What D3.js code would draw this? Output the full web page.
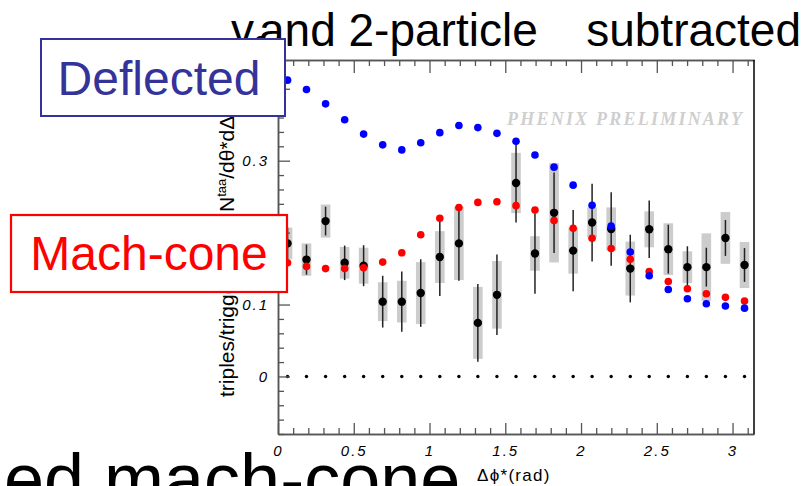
<!DOCTYPE html>
<html>
<head>
<meta charset="utf-8">
<script src="https://cdn.jsdelivr.net/npm/d3@7"></script>
<style>
	body{margin:0;background:#fff;}
	svg text{font-family:"Liberation Sans",Arial,sans-serif;}
</style>
</head>
<body>
<div id="chart-box"></div>
<script>
// bin centres in delta phi* (rad)
const dphi= [0.063,0.188,0.314,0.440,0.565,0.691,0.817,0.942,1.068,1.194,1.319,1.445,1.571,
	1.696,1.822,1.948,2.073,2.199,2.325,2.450,2.576,2.702,2.827,2.953,3.079];
// Deflected jet expectation (blue)
const deflected= [0.412,0.399,0.379,0.357,0.337,0.322,0.315,0.325,0.339,0.349,0.346,0.338,0.327,
	0.308,0.291,0.266,0.238,0.209,0.173,0.140,0.121,0.108,0.101,0.098,0.095];
// Mach-cone expectation (red)
const machCone= [0.158,0.153,0.150,0.150,0.151,0.159,0.172,0.197,0.220,0.235,0.242,0.243,0.2375,
	0.2315,0.2167,0.206,0.192,0.178,0.163,0.146,0.132,0.122,0.115,0.110,0.105];
// measured triples (black), stat error and systematic band
const triples= [0.185,0.1625,0.216,0.158,0.154,0.104,0.104,0.116,0.166,0.185,0.0745,0.1135,0.269,
	0.171,0.2275,0.175,0.214,0.205,0.150,0.2046,0.177,0.152,0.152,0.1926,0.155];
const statErr= [0.022,0.021,0.020,0.024,0.0285,0.036,0.042,0.047,0.054,0.052,0.054,0.056,0.055,
	0.056,0.056,0.0565,0.054,0.051,0.047,0.040,0.034,0.029,0.027,0.025,0.0235];
const sysErr= [0.022,0.0225,0.023,0.022,0.025,0.027,0.029,0.043,0.036,0.051,0.050,0.047,0.042,
	0.024,0.069,0.032,0.021,0.030,0.0375,0.025,0.036,0.022,0.047,0.036,0.032];
// axis ticks
const xMajor= [0,0.5,1,1.5,2,2.5,3];
const xMinor= [0.1,0.2,0.3,0.4,0.6,0.7,0.8,0.9,1.1,1.2,1.3,1.4,1.6,1.7,1.8,1.9,2.1,2.2,2.3,2.4,2.6,2.7,2.8,2.9,3.1];
const yMajor= [0,0.1,0.2,0.3,0.4];
const yMinor= [-0.08,-0.06,-0.04,-0.02,0.02,0.04,0.06,0.08,0.12,0.14,0.16,0.18,0.22,0.24,0.26,0.28,
	0.32,0.34,0.36,0.38,0.42,0.44];

const w= 804, h= 486;
const pLeft= 278, pRight= 754, pTop= 60, pBottom= 434;

const svg= d3.select("#chart-box")
	.append("svg")
	.attr("width",w)
	.attr("height",h);

const xScale= d3.scaleLinear().domain([0,Math.PI]).range([pLeft,pRight]);
const yScale= d3.scaleLinear().domain([-0.08,0.44]).range([pBottom,pTop]);

// title (cut at the top like the slide)
const title= svg.append("text")
	.attr("y",46)
	.attr("font-size",46)
	.attr("fill","#000");
title.append("tspan").attr("x",231).text("v");
title.append("tspan").attr("font-size",24).attr("dy",7).text("2");
title.append("tspan").attr("x",259).attr("dy",-7).text("and 2-particle");
svg.append("text")
	.attr("x",801).attr("y",46)
	.attr("text-anchor","end")
	.attr("font-size",46)
	.attr("fill","#000")
	.text("subtracted");

// watermark
svg.append("text")
	.attr("x",507).attr("y",125)
	.style("font-family","'Liberation Serif','Times New Roman',serif")
	.attr("font-style","italic")
	.attr("font-weight","bold")
	.attr("font-size",18)
	.attr("fill","#cfcfcf")
	.attr("textLength",235)
	.attr("lengthAdjust","spacing")
	.text("PHENIX PRELIMINARY");

// zero line
svg.selectAll(".zero")
	.data(dphi)
	.enter().append("circle")
	.attr("class","zero")
	.attr("cx",d=> xScale(d))
	.attr("cy",yScale(0))
	.attr("r",1.7)
	.attr("fill","#000");

// systematic boxes
svg.selectAll(".sys")
	.data(dphi)
	.enter().append("rect")
	.attr("class","sys")
	.attr("x",d=> xScale(d)-4.8)
	.attr("width",9.6)
	.attr("y",(d,i)=> yScale(triples[i]+sysErr[i]))
	.attr("height",(d,i)=> yScale(triples[i]-sysErr[i])-yScale(triples[i]+sysErr[i]))
	.attr("fill","#cccccc");

// stat errors
svg.selectAll(".stat")
	.data(dphi)
	.enter().append("line")
	.attr("class","stat")
	.attr("x1",d=> xScale(d)).attr("x2",d=> xScale(d))
	.attr("y1",(d,i)=> yScale(triples[i]+statErr[i]))
	.attr("y2",(d,i)=> yScale(triples[i]-statErr[i]))
	.attr("stroke","#222")
	.attr("stroke-width",1.5);

svg.selectAll(".dat")
	.data(dphi)
	.enter().append("circle")
	.attr("class","dat")
	.attr("cx",d=> xScale(d))
	.attr("cy",(d,i)=> yScale(triples[i]))
	.attr("r",4.2)
	.attr("fill","#000");

svg.selectAll(".mach")
	.data(dphi)
	.enter().append("circle")
	.attr("class","mach")
	.attr("cx",d=> xScale(d))
	.attr("cy",(d,i)=> yScale(machCone[i]))
	.attr("r",3.8)
	.attr("fill","#ff0000");

svg.selectAll(".defl")
	.data(dphi)
	.enter().append("circle")
	.attr("class","defl")
	.attr("cx",d=> xScale(d))
	.attr("cy",(d,i)=> yScale(deflected[i]))
	.attr("r",3.8)
	.attr("fill","#0000ff");

// axes, ticks pointing inward
const axisCol= "#555";
function styleAxis(g)
{
	g.select(".domain").attr("stroke",axisCol).attr("stroke-width",1.5);
	g.selectAll(".tick line").attr("stroke",axisCol).attr("stroke-width",1.3);
	g.selectAll("text")
		.attr("font-size",15)
		.attr("font-style","italic")
		.attr("letter-spacing",2)
		.attr("fill","#000");
}
function noLabels(g)
{
	g.selectAll(".tick text").remove();
}
svg.append("g")
	.attr("transform","translate(0,"+pBottom+")")
	.call(d3.axisBottom(xScale).tickValues(xMinor).tickSize(-6).tickSizeOuter(0))
	.call(noLabels)
	.call(styleAxis);
svg.append("g")
	.attr("id","x-axis")
	.attr("transform","translate(0,"+pBottom+")")
	.call(d3.axisBottom(xScale).tickValues(xMajor).tickSize(-11).tickSizeOuter(0).tickPadding(11)
		.tickFormat(d=> d))
	.call(styleAxis);
svg.append("g")
	.attr("transform","translate(0,"+pTop+")")
	.call(d3.axisTop(xScale).tickValues(xMinor).tickSize(-6).tickSizeOuter(0))
	.call(noLabels)
	.call(styleAxis);
svg.append("g")
	.attr("transform","translate(0,"+pTop+")")
	.call(d3.axisTop(xScale).tickValues(xMajor).tickSize(-13).tickSizeOuter(0))
	.call(noLabels)
	.call(styleAxis);
svg.append("g")
	.attr("transform","translate("+pLeft+",0)")
	.call(d3.axisLeft(yScale).tickValues(yMinor).tickSize(-6).tickSizeOuter(0))
	.call(noLabels)
	.call(styleAxis);
svg.append("g")
	.attr("id","y-axis")
	.attr("transform","translate("+pLeft+",0)")
	.call(d3.axisLeft(yScale).tickValues(yMajor).tickSize(-12).tickSizeOuter(0).tickPadding(9)
		.tickFormat(d=> d===0 ? "0" : d.toFixed(1)))
	.call(styleAxis);
svg.append("line")
	.attr("x1",pRight).attr("x2",pRight)
	.attr("y1",pTop).attr("y2",pBottom)
	.attr("stroke","#000").attr("stroke-width",1.5);

// y title (middle part sits behind the Mach-cone box)
const yTitle= svg.append("g").attr("transform","translate(234,0) rotate(-90)");
const yt= yTitle.append("text").attr("font-size",21).attr("fill","#000");
yt.append("tspan").attr("x",-397).text("triples/trigger/");
yt.append("tspan").attr("x",-212).text("N");
yt.append("tspan").attr("font-size",13).attr("dy",-8).text("taa");
yt.append("tspan").attr("dy",8).text("/dθ*dΔϕ*");

// x title
svg.append("text")
	.attr("x",477).attr("y",481)
	.attr("font-size",17)
	.attr("letter-spacing",1.3)
	.attr("fill","#000")
	.text("Δϕ*(rad)");

// big slide text at the bottom
svg.append("text")
	.attr("x",4).attr("y",504)
	.attr("font-size",72)
	.attr("fill","#000")
	.text("ed mach-cone");

// legend boxes
svg.append("rect")
	.attr("x",41).attr("y",39).attr("width",244).attr("height",77)
	.attr("fill","#fff").attr("stroke","#333399").attr("stroke-width",2);
svg.append("text")
	.attr("x",159).attr("y",95)
	.attr("text-anchor","middle")
	.attr("font-size",48)
	.attr("fill","#333399")
	.text("Deflected");
svg.append("rect")
	.attr("x",11).attr("y",215).attr("width",276).attr("height",77)
	.attr("fill","#fff").attr("stroke","#ff0000").attr("stroke-width",2.2);
svg.append("text")
	.attr("x",149).attr("y",270)
	.attr("text-anchor","middle")
	.attr("font-size",48)
	.attr("fill","#ff0000")
	.text("Mach-cone");
</script>
</body>
</html>
